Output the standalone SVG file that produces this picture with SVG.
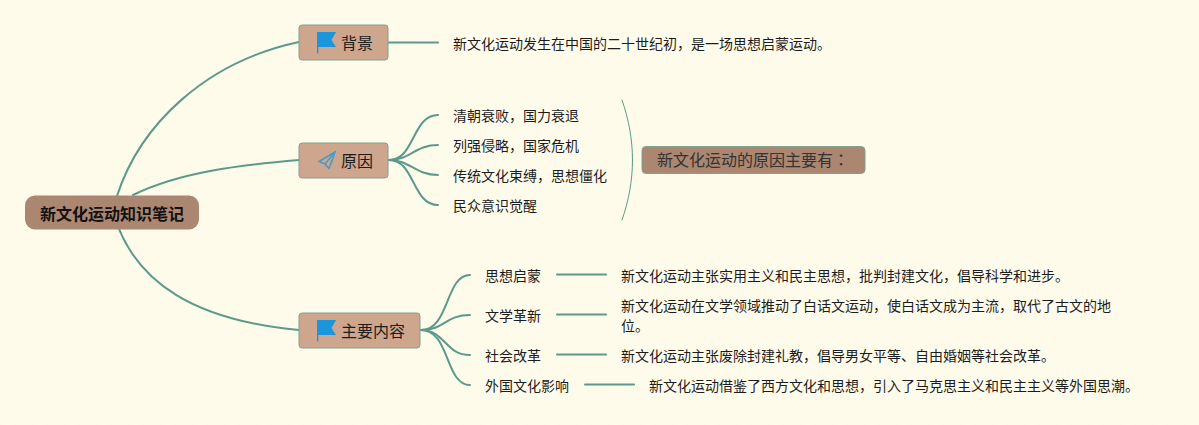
<svg xmlns="http://www.w3.org/2000/svg" width="1199" height="425" viewBox="0 0 1199 425">
<style>
text{font-family:"Noto Sans CJK SC","Liberation Sans",sans-serif;fill:#1c1c1c}
.l{font-size:14px}
.n{font-size:16px}
.b{fill:#cda68d;stroke:#7fa38f;stroke-width:1}
.c path{fill:none;stroke:#5b9a8b;stroke-width:2;stroke-linecap:round}
</style>
<defs>
<g id="flag"><path d="M0 0H19L14.500 8L19 15H1.300V21.500H0Z" fill="#1b95dc"/></g>
<pattern id="dots" width="32" height="32" patternUnits="userSpaceOnUse"><circle cx="8" cy="8" r="4" fill="#fffdf0"/></pattern>
</defs>
<rect width="1199" height="425" fill="#fffbea"/>
<rect width="1199" height="425" fill="url(#dots)" opacity=".5"/>
<g id="connectors" class="c">
<path d="M117 196C140 125 205 62 299 42"/>
<path d="M133 195C180 172 240 165 299 160"/>
<path d="M119 229C140 280 190 320 299 330"/>
<path d="M388 42.500H438"/>
<path d="M389 160C415 160 412 115 438 115"/>
<path d="M389 160C410 160 415 145 438 145"/>
<path d="M389 160C410 160 415 175 438 175"/>
<path d="M389 160C415 160 412 205 438 205"/>
<path d="M421 330C450 330 445 275 470 275"/>
<path d="M421 330C445 330 445 315 470 315"/>
<path d="M421 330C445 330 445 355 470 355"/>
<path d="M421 330C450 330 445 385 470 385"/>
<path d="M557 274.500H606"/>
<path d="M557 314.500H606"/>
<path d="M557 354.500H606"/>
<path d="M585 384.500H634"/>
<path d="M622 100C636 140 636 180 622 220" style="stroke-width:1"/>
</g>
<g id="root"><rect x="25" y="195.500" width="174" height="34" rx="10" fill="#ab8670"/><text x="40" y="219.500" font-size="16" font-weight="700" style="fill:#111">新文化运动知识笔记</text></g>
<g id="n-bg"><rect class="b" x="299" y="25" width="89" height="35" rx="3"/><use href="#flag" x="317" y="32"/><text class="n" x="341" y="49">背景</text></g>
<g id="n-reason"><rect class="b" x="299" y="143" width="89" height="35" rx="3"/><path d="M335 152L319 161.500L325 164L329 168.500ZM325 164L335 152L331 164" fill="none" stroke="#4a9acb" stroke-width="1.500"/><text class="n" x="341" y="167">原因</text></g>
<g id="n-main"><rect class="b" x="299" y="313" width="121" height="35" rx="3"/><use href="#flag" x="317" y="320"/><text class="n" x="341" y="337">主要内容</text></g>
<g id="t-bg"><text class="l" x="453" y="49">新文化运动发生在中国的二十世纪初&#xFF0C;是一场思想启蒙运动。</text></g>
<g id="r1"><text class="l" x="453" y="121">清朝衰败&#xFF0C;国力衰退</text></g>
<g id="r2"><text class="l" x="453" y="151">列强侵略&#xFF0C;国家危机</text></g>
<g id="r3"><text class="l" x="453" y="181">传统文化束缚&#xFF0C;思想僵化</text></g>
<g id="r4"><text class="l" x="453" y="211">民众意识觉醒</text></g>
<g id="summary"><rect x="642" y="146.500" width="223" height="27" rx="4" fill="#ab8670" stroke="#7fa38f"/><text class="n" x="657" y="166" style="fill:#333">新文化运动的原因主要有<tspan style="font-family:'Noto Sans CJK TC',sans-serif">&#xFF1A;</tspan></text></g>
<g id="m1"><text class="l" x="485" y="281">思想启蒙</text><text class="l" x="621" y="281">新文化运动主张实用主义和民主思想&#xFF0C;批判封建文化&#xFF0C;倡导科学和进步。</text></g>
<g id="m2"><text class="l" x="485" y="321">文学革新</text><text class="l" x="621" y="311">新文化运动在文学领域推动了白话文运动&#xFF0C;使白话文成为主流&#xFF0C;取代了古文的地</text><text class="l" x="621" y="331">位。</text></g>
<g id="m3"><text class="l" x="485" y="361">社会改革</text><text class="l" x="621" y="361">新文化运动主张废除封建礼教&#xFF0C;倡导男女平等、自由婚姻等社会改革。</text></g>
<g id="m4"><text class="l" x="485" y="391">外国文化影响</text><text class="l" x="649" y="391">新文化运动借鉴了西方文化和思想&#xFF0C;引入了马克思主义和民主主义等外国思潮。</text></g>
</svg>
